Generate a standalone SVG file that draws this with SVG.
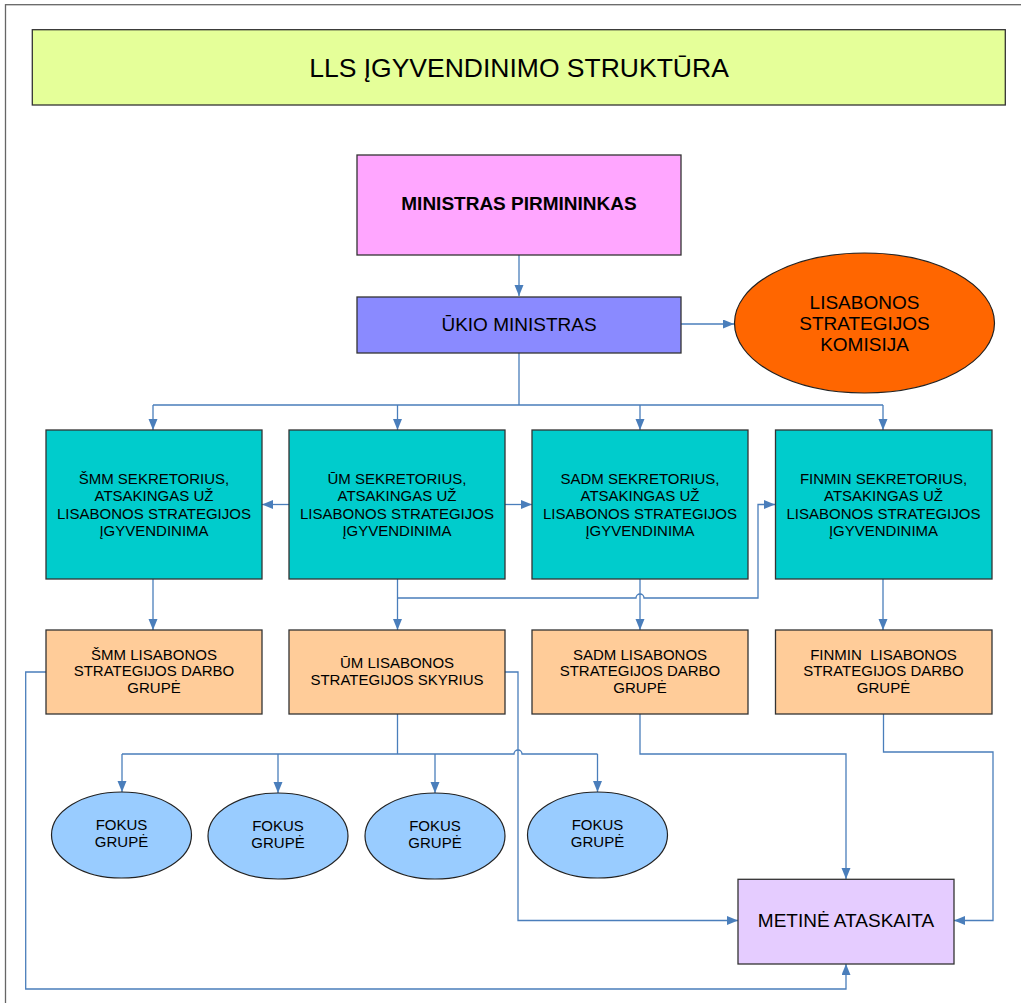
<svg xmlns="http://www.w3.org/2000/svg" width="1021" height="1003" viewBox="0 0 1021 1003">
<style>
.box{stroke:#333;stroke-width:1.3}
.ell{stroke:#222;stroke-width:1.2}
.t{font-family:"Liberation Sans",Arial,sans-serif;fill:#000;text-anchor:middle}
.s15{font-size:15px}
.s19{font-size:19px}
.c{fill:none;stroke:#4a7ebb;stroke-width:1.3}
.a{marker-end:url(#arr)}
</style>
<defs>
<marker id="arr" markerUnits="userSpaceOnUse" markerWidth="12" markerHeight="10" refX="11" refY="4.5" orient="auto">
<path d="M0,0 L11,4.5 L0,9 z" fill="#4a7ebb"/>
</marker>
</defs>
<rect x="0" y="0" width="1021" height="1003" fill="#fff"/>
<rect x="5.5" y="4.7" width="1030" height="1010" fill="none" stroke="#666" stroke-width="1.3"/>

<g id="title">
<rect class="box" x="32.3" y="29.7" width="973" height="75.3" fill="#e5ff99"/>
<text class="t" x="519" y="77" font-size="26.5px">LLS ĮGYVENDINIMO STRUKTŪRA</text>
</g>

<g id="connectors">
<path class="c a" d="M519,255 V296"/>
<path class="c a" d="M681,324 H734"/>
<path class="c" d="M519,353 V405 M153,405 H883"/>
<path class="c a" d="M153,405 V430"/>
<path class="c a" d="M397.5,405 V430"/>
<path class="c a" d="M640,405 V430"/>
<path class="c a" d="M883,405 V430"/>
<path class="c a" d="M289,504.5 H262"/>
<path class="c a" d="M505,504.5 H532"/>
<path class="c a" d="M397.5,579 V630"/>
<path class="c a" d="M397.5,598 H636 a4,4 0 0 1 8,0 H758 V504.5 H775"/>
<path class="c a" d="M640,579 V630"/>
<path class="c a" d="M153,579 V630"/>
<path class="c a" d="M883,579 V630"/>
<path class="c" d="M397.5,714 V754 M122,754 H514 a4,4 0 0 1 8,0 H597.5"/>
<path class="c a" d="M122,754 V792"/>
<path class="c a" d="M278,754 V793"/>
<path class="c a" d="M435,754 V793"/>
<path class="c a" d="M597.5,754 V792"/>
<path class="c a" d="M505,672 H518 V920.5 H738"/>
<path class="c a" d="M46,672 H25.7 V989 H846 V964"/>
<path class="c a" d="M640,714 V754 H846 V879"/>
<path class="c a" d="M883.5,714 V752 H993 V920.5 H954"/>
</g>

<g id="ministras-pirmininkas">
<rect class="box" x="357" y="155" width="324" height="100" fill="#ffa6ff"/>
<text class="t s19" x="519" y="210" font-weight="bold">MINISTRAS PIRMININKAS</text>
</g>

<g id="ukio-ministras">
<rect class="box" x="357" y="297" width="324" height="56" fill="#8a8aff"/>
<text class="t s19" x="519" y="330.5">ŪKIO MINISTRAS</text>
</g>

<g id="komisija">
<ellipse class="ell" cx="864.5" cy="323" rx="130" ry="70" fill="#ff6600"/>
<text class="t s19" x="864.5" y="308.5">LISABONOS</text>
<text class="t s19" x="864.5" y="329.5">STRATEGIJOS</text>
<text class="t s19" x="864.5" y="350.5">KOMISIJA</text>
</g>

<g id="smm-sekretorius">
<rect class="box" x="46" y="430" width="216" height="149" fill="#00cccc"/>
<text class="t s15" x="154" y="483.7">ŠMM SEKRETORIUS,</text>
<text class="t s15" x="154" y="501.1">ATSAKINGAS UŽ</text>
<text class="t s15" x="154" y="518.5">LISABONOS STRATEGIJOS</text>
<text class="t s15" x="154" y="535.9">ĮGYVENDINIMA</text>
</g>

<g id="um-sekretorius">
<rect class="box" x="289" y="430" width="216" height="149" fill="#00cccc"/>
<text class="t s15" x="397" y="483.7">ŪM SEKRETORIUS,</text>
<text class="t s15" x="397" y="501.1">ATSAKINGAS UŽ</text>
<text class="t s15" x="397" y="518.5">LISABONOS STRATEGIJOS</text>
<text class="t s15" x="397" y="535.9">ĮGYVENDINIMA</text>
</g>

<g id="sadm-sekretorius">
<rect class="box" x="532" y="430" width="216" height="149" fill="#00cccc"/>
<text class="t s15" x="640" y="483.7">SADM SEKRETORIUS,</text>
<text class="t s15" x="640" y="501.1">ATSAKINGAS UŽ</text>
<text class="t s15" x="640" y="518.5">LISABONOS STRATEGIJOS</text>
<text class="t s15" x="640" y="535.9">ĮGYVENDINIMA</text>
</g>

<g id="finmin-sekretorius">
<rect class="box" x="775.5" y="430" width="216.5" height="149" fill="#00cccc"/>
<text class="t s15" x="883.5" y="483.7">FINMIN SEKRETORIUS,</text>
<text class="t s15" x="883.5" y="501.1">ATSAKINGAS UŽ</text>
<text class="t s15" x="883.5" y="518.5">LISABONOS STRATEGIJOS</text>
<text class="t s15" x="883.5" y="535.9">ĮGYVENDINIMA</text>
</g>

<g id="smm-grupe">
<rect class="box" x="46" y="630" width="216" height="84" fill="#ffcc99"/>
<text class="t s15" x="154" y="659.7">ŠMM LISABONOS</text>
<text class="t s15" x="154" y="676.4">STRATEGIJOS DARBO</text>
<text class="t s15" x="154" y="693.1">GRUPĖ</text>
</g>

<g id="um-skyrius">
<rect class="box" x="289" y="630" width="216" height="84" fill="#ffcc99"/>
<text class="t s15" x="397" y="668">ŪM LISABONOS</text>
<text class="t s15" x="397" y="684.7">STRATEGIJOS SKYRIUS</text>
</g>

<g id="sadm-grupe">
<rect class="box" x="532" y="630" width="216" height="84" fill="#ffcc99"/>
<text class="t s15" x="640" y="659.7">SADM LISABONOS</text>
<text class="t s15" x="640" y="676.4">STRATEGIJOS DARBO</text>
<text class="t s15" x="640" y="693.1">GRUPĖ</text>
</g>

<g id="finmin-grupe">
<rect class="box" x="775.5" y="630" width="216.5" height="84" fill="#ffcc99"/>
<text class="t s15" x="883.5" y="659.7" xml:space="preserve">FINMIN  LISABONOS</text>
<text class="t s15" x="883.5" y="676.4">STRATEGIJOS DARBO</text>
<text class="t s15" x="883.5" y="693.1">GRUPĖ</text>
</g>

<g id="fokus-1">
<ellipse class="ell" cx="121.5" cy="835" rx="70" ry="43" fill="#99ccff"/>
<text class="t s15" x="121.5" y="829.7">FOKUS</text>
<text class="t s15" x="121.5" y="847.1">GRUPĖ</text>
</g>
<g id="fokus-2">
<ellipse class="ell" cx="278" cy="836" rx="70" ry="43" fill="#99ccff"/>
<text class="t s15" x="278" y="831">FOKUS</text>
<text class="t s15" x="278" y="848.4">GRUPĖ</text>
</g>
<g id="fokus-3">
<ellipse class="ell" cx="435" cy="836" rx="70" ry="43" fill="#99ccff"/>
<text class="t s15" x="435" y="831">FOKUS</text>
<text class="t s15" x="435" y="848.4">GRUPĖ</text>
</g>
<g id="fokus-4">
<ellipse class="ell" cx="597.5" cy="835" rx="70" ry="43" fill="#99ccff"/>
<text class="t s15" x="597.5" y="829.7">FOKUS</text>
<text class="t s15" x="597.5" y="847.1">GRUPĖ</text>
</g>

<g id="metine-ataskaita">
<rect class="box" x="738" y="879.3" width="216" height="84.7" fill="#e5ccff"/>
<text class="t s19" x="846" y="927">METINĖ ATASKAITA</text>
</g>
</svg>
